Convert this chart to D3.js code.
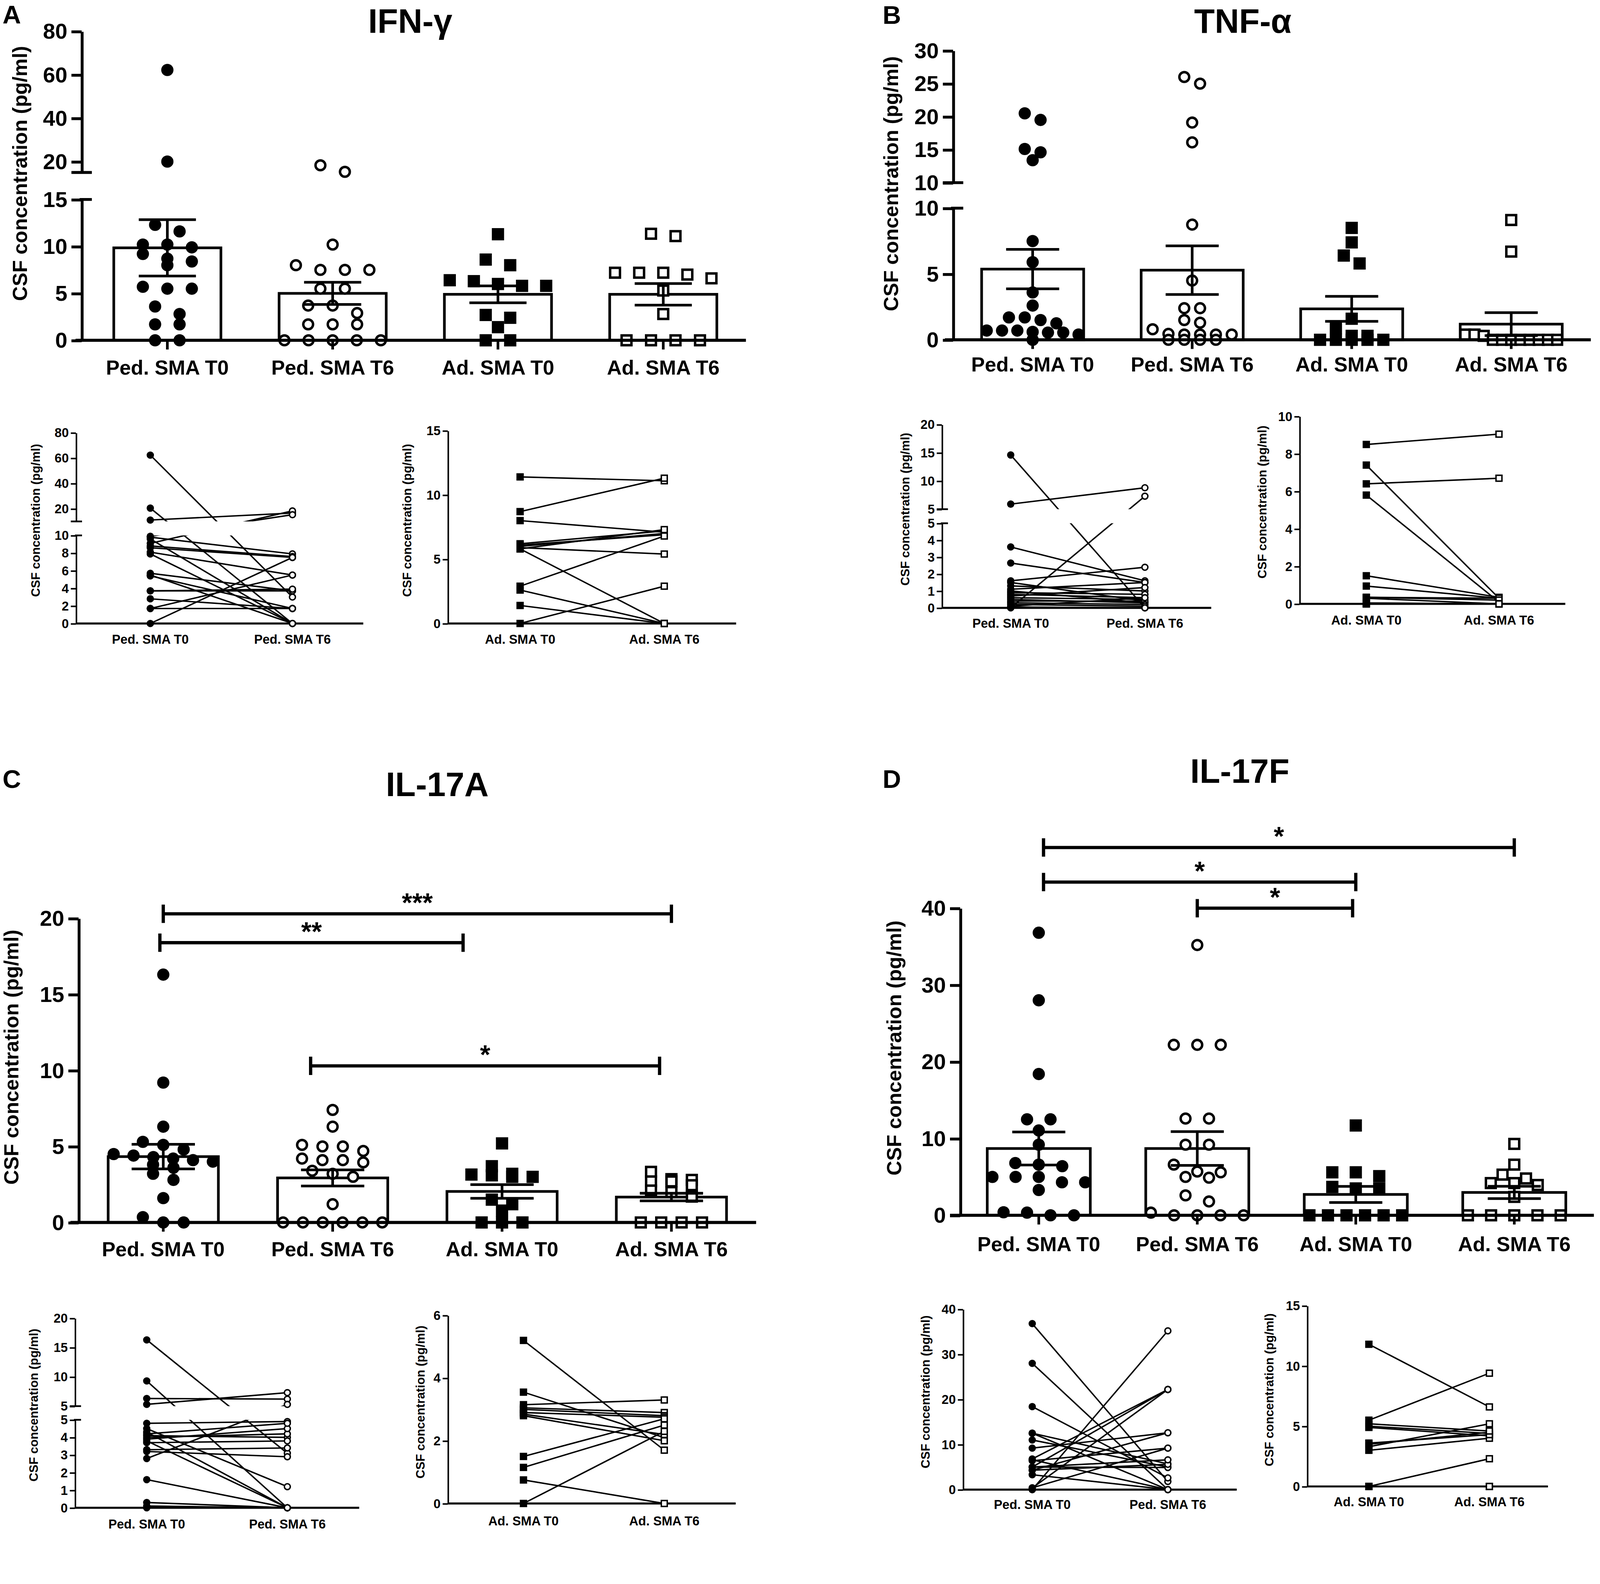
<!DOCTYPE html>
<html lang="en">
<head>
<meta charset="utf-8">
<title>CSF cytokines in SMA</title>
<script src="https://cdn.jsdelivr.net/npm/d3@7"></script>
<style>
  html, body { margin: 0; padding: 0; background: #fff; overflow: hidden; }
  svg { display: block; width: 100vw; height: auto; }
  svg text { font-family: "Liberation Sans", Arial, sans-serif; font-weight: bold; fill: #000; }
</style>
</head>
<body>
<script>

// groups and labels
var groups = ["Ped. SMA T0", "Ped. SMA T6", "Ad. SMA T0", "Ad. SMA T6"];
var pedGroups = ["Ped. SMA T0", "Ped. SMA T6"];
var adGroups = ["Ad. SMA T0", "Ad. SMA T6"];
var markerKinds = ["dot", "ring", "box", "frame"];
var yTitle = "CSF concentration (pg/ml)";

// A - IFN-gamma
var ifnPedT0 = [62.2, 20.0, 12.3, 11.6, 10.2, 10.2, 9.9, 9.2, 8.7, 8.4, 8.0, 5.7, 5.5, 5.5, 3.6, 2.8, 1.7, 1.7, 0, 0];
var ifnPedT6 = [18.3, 15.3, 10.2, 8.0, 7.5, 7.5, 7.5, 5.5, 5.5, 3.7, 3.7, 2.9, 1.7, 1.7, 1.7, 0, 0, 0, 0, 0];
var ifnAdT0 = [11.3, 8.6, 8.0, 6.4, 6.3, 6.0, 5.8, 5.8, 2.7, 2.4, 1.4, 0, 0];
var ifnAdT6 = [11.35, 11.1, 7.2, 7.2, 7.2, 7.0, 6.6, 5.3, 2.8, 0, 0, 0, 0];
var ifnMean = [9.85, 5.0, 4.9, 4.9];
var ifnSem = [3.0, 1.18, 0.9, 1.15];
var ifnTicksLow = [0, 5, 10, 15], ifnTicksUp = [20, 40, 60, 80];
var ifnPairPedT0 = [62.3, 20.5, 11.1, 9.1, 9.8, 9.6, 8.8, 8.6, 7.9, 5.7, 5.5, 5.4, 3.7, 3.7, 2.8, 1.7, 1.7, 9.9, 0, 8.1];
var ifnPairPedT6 = [3.0, 0, 16.6, 18.3, 7.9, 0, 7.6, 7.5, 0, 3.7, 0, 1.7, 3.7, 3.9, 1.7, 5.5, 1.7, 15.3, 7.5, 5.5];
var ifnPairAdT0 = [11.4, 8.7, 8.0, 6.2, 6.1, 6.0, 5.9, 5.8, 2.9, 2.6, 1.4, 0, 5.8];
var ifnPairAdT6 = [11.1, 11.3, 7.1, 7.2, 6.9, 7.0, 5.4, 0, 6.8, 0, 0, 2.9, 7.3];
var ifnPedTicksLow = [0, 2, 4, 6, 8, 10], ifnPedTicksUp = [20, 40, 60, 80];
var ifnAdTicks = [0, 5, 10, 15];

// B - TNF-alpha
var tnfPedT0 = [20.5, 19.5, 15.1, 14.6, 13.4, 7.5, 5.9, 3.6, 2.6, 1.7, 1.7, 1.5, 1.25, 0.7, 0.7, 0.7, 0.6, 0.55, 0.55, 0.4, 0];
var tnfPedT6 = [26.0, 25.0, 19.1, 16.1, 8.75, 4.5, 2.4, 2.4, 1.5, 1.3, 0.8, 0.45, 0.4, 0.4, 0.4, 0.4, 0, 0, 0, 0];
var tnfAdT0 = [8.5, 7.4, 6.4, 5.8, 1.6, 0.9, 0.3, 0.3, 0, 0, 0, 0, 0];
var tnfAdT6 = [9.1, 6.7, 0.4, 0.4, 0.3, 0, 0, 0, 0, 0, 0, 0, 0];
var tnfMean = [5.37, 5.29, 2.35, 1.19];
var tnfSem = [1.5, 1.85, 0.95, 0.87];
var tnfTicksLow = [0, 5, 10], tnfTicksUp = [10, 15, 20, 25, 30];
var tnfPairPedT0 = [14.6, 5.9, 3.6, 2.65, 1.6, 1.5, 1.3, 1.1, 1.0, 0.9, 0.8, 0.7, 0.6, 0.5, 0.4, 0.3, 0.2, 0.1, 0, 0.05];
var tnfPairPedT6 = [0, 8.8, 1.6, 1.5, 2.4, 0.4, 1.0, 1.5, 0.3, 0.8, 0.6, 1.2, 0.5, 0.3, 0.4, 0.2, 0.1, 0.6, 7.3, 0];
var tnfPairAdT0 = [8.5, 7.4, 6.4, 5.8, 1.5, 0.95, 0.35, 0.35, 0.3, 0.05, 0, 0, 0];
var tnfPairAdT6 = [9.05, 0.3, 6.7, 0.1, 0.35, 0.3, 0.3, 0.2, 0, 0, 0, 0, 0];
var tnfPedTicksLow = [0, 1, 2, 3, 4, 5], tnfPedTicksUp = [5, 10, 15, 20];
var tnfAdTicks = [0, 2, 4, 6, 8, 10];

// C - IL-17A
var il17aPedT0 = [16.3, 9.2, 6.3, 5.3, 5.1, 4.8, 4.5, 4.4, 4.3, 4.2, 4.1, 4.0, 3.8, 3.6, 3.2, 2.8, 1.6, 0.35, 0, 0];
var il17aPedT6 = [7.4, 6.3, 5.1, 5.0, 5.0, 4.7, 4.2, 4.1, 4.1, 3.95, 3.4, 3.2, 3.0, 1.2, 0, 0, 0, 0, 0, 0];
var il17aAdT0 = [5.2, 3.7, 3.2, 3.15, 3.1, 3.0, 3.0, 1.5, 1.2, 0.78, 0, 0, 0];
var il17aAdT6 = [3.33, 2.85, 2.8, 2.7, 2.7, 2.45, 2.1, 2.0, 1.7, 0, 0, 0, 0];
var il17aMean = [4.33, 2.93, 2.04, 1.67];
var il17aSem = [0.81, 0.53, 0.45, 0.25];
var il17aTicks = [0, 5, 10, 15, 20];
var il17aSigFrom = [0, -0.02, 0.87], il17aSigTo = [3, 1.77, 2.93];
var il17aSigLevel = [20.3, 18.4, 10.3], il17aSigText = ["***", "**", "*"];
var il17aPairPedT0 = [16.3, 9.3, 6.3, 5.3, 4.8, 4.5, 4.3, 4.1, 4.0, 3.9, 3.8, 3.7, 3.3, 2.8, 1.6, 0.3, 0.1, 0, 4.2, 3.2];
var il17aPairPedT6 = [3.1, 0, 6.2, 7.3, 4.9, 1.2, 0, 4.0, 4.2, 4.5, 0, 3.8, 3.4, 5.3, 0, 0, 0, 0, 4.8, 2.9];
var il17aPairAdT0 = [5.2, 3.55, 3.15, 3.05, 3.0, 2.9, 2.85, 2.8, 1.5, 1.15, 0.75, 0];
var il17aPairAdT6 = [1.7, 2.1, 3.3, 2.9, 2.8, 2.75, 2.2, 2.0, 2.7, 2.5, 0, 2.3];
var il17aPedTicksLow = [0, 1, 2, 3, 4, 5], il17aPedTicksUp = [5, 10, 15, 20];
var il17aAdTicks = [0, 2, 4, 6];

// D - IL-17F
var il17fPedT0 = [36.8, 28.0, 18.4, 12.5, 12.5, 11.05, 9.2, 6.8, 6.6, 6.4, 5.0, 5.0, 5.0, 4.3, 4.3, 3.3, 0.4, 0.35, 0, 0];
var il17fPedT6 = [35.2, 22.2, 22.2, 22.2, 12.6, 12.6, 9.2, 9.2, 6.6, 5.7, 5.6, 5.0, 4.9, 2.6, 1.8, 0.35, 0, 0, 0, 0];
var il17fAdT0 = [11.7, 5.6, 5.6, 5.1, 3.7, 3.5, 3.5, 0, 0, 0, 0, 0, 0];
var il17fAdT6 = [9.3, 6.6, 5.3, 4.8, 4.2, 4.2, 3.95, 2.4, 0, 0, 0, 0, 0];
var il17fMean = [8.7, 8.7, 2.72, 2.98];
var il17fSem = [2.15, 2.2, 1.05, 0.8];
var il17fTicks = [0, 10, 20, 30, 40];
var il17fSigFrom = [0.03, 0.03, 1.0], il17fSigTo = [3.0, 2.0, 1.98];
var il17fSigLevel = [47.9, 43.4, 40.0], il17fSigText = ["*", "*", "*"];
var il17fPairPedT0 = [36.8, 28.0, 18.4, 12.5, 12.5, 11.0, 9.2, 6.8, 6.6, 6.4, 5.0, 5.0, 4.3, 4.3, 5.0, 3.3, 0.4, 0.35, 0, 0];
var il17fPairPedT6 = [1.8, 0, 2.6, 5.7, 0, 5.0, 12.6, 22.2, 0, 9.2, 22.2, 4.9, 5.6, 12.6, 6.6, 0, 9.2, 22.2, 35.2, 0];
var il17fPairAdT0 = [11.8, 5.5, 5.0, 4.9, 3.5, 3.3, 3.0, 0, 0, 3.6, 5.2, 0];
var il17fPairAdT6 = [6.6, 9.4, 4.4, 4.2, 4.5, 5.2, 4.0, 2.3, 0, 4.3, 4.6, 0];
var il17fPedTicks = [0, 10, 20, 30, 40];
var il17fAdTicks = [0, 5, 10, 15];


// the drawing is laid out in a 1568 x 1501 box, scaled to the window width, top aligned
var svg = d3.select("body").append("svg")
  .attr("viewBox", "0 0 1568 1501")
  .attr("preserveAspectRatio", "xMidYMin meet");
svg.append("rect").attr("width", 1568).attr("height", 1501).attr("fill", "#fff");

var clipCount = 0;

// scale with an optional upper segment above a break
function yScale(lowDom, lowRange, upDom, upRange) {
  var lo = d3.scaleLinear().domain(lowDom).range(lowRange);
  var up = upDom ? d3.scaleLinear().domain(upDom).range(upRange) : null;
  var f = function (v) { return up && v > lowDom[1] ? up(v) : lo(v); };
  f.lo = lo;
  f.up = up;
  return f;
}

function putText(g, x, y, str, size, anchor, rot) {
  return g.append("text")
    .attr("transform", "translate(" + x + "," + y + ")" + (rot ? " rotate(-90)" : ""))
    .attr("text-anchor", anchor || "middle")
    .attr("font-size", size)
    .text(str);
}

function leftAxis(g, scale, ticks, x, len, sw, size) {
  var ax = g.append("g").attr("transform", "translate(" + x + ",0)")
    .call(d3.axisLeft(scale).tickValues(ticks).tickFormat(d3.format("d"))
      .tickSize(len).tickSizeOuter(0).tickPadding(len > 6 ? 4 : 2));
  ax.attr("font-size", size).attr("font-family", null);
  ax.selectAll("path, line").attr("stroke", "#000").attr("stroke-width", sw);
  return ax;
}

function hline(g, x1, x2, y, sw) {
  g.append("line").attr("x1", x1).attr("x2", x2).attr("y1", y).attr("y2", y)
    .attr("stroke", "#000").attr("stroke-width", sw);
}

function drawMarkers(g, pts, kind, r, sw) {
  var open = kind === "ring" || kind === "frame";
  var rr = open ? r - sw / 2 : r;
  var sel;
  if (kind === "dot" || kind === "ring") {
    sel = g.selectAll(null).data(pts).join("circle")
      .attr("cx", function (d) { return d.x; })
      .attr("cy", function (d) { return d.y; })
      .attr("r", rr);
  } else {
    sel = g.selectAll(null).data(pts).join("rect")
      .attr("x", function (d) { return d.x - rr; })
      .attr("y", function (d) { return d.y - rr; })
      .attr("width", 2 * rr).attr("height", 2 * rr);
  }
  sel.attr("fill", open ? "#fff" : "#000")
    .attr("stroke", open ? "#000" : "none")
    .attr("stroke-width", open ? sw : 0);
}

// prism-like scatter: points of similar height share a centred row,
// squeezed when the row would get wider than the bar
function swarm(vals, y, cx, gap, thr, maxW) {
  var pts = vals.map(function (v) { return { v: v, y: y(v) }; })
    .sort(function (a, b) { return a.y - b.y; });
  var rows = [], row = null;
  pts.forEach(function (p) {
    if (row && p.y - row[0].y < thr) row.push(p);
    else { row = [p]; rows.push(row); }
  });
  rows.forEach(function (r) {
    var step = r.length > 1 ? Math.min(gap, maxW / (r.length - 1)) : 0;
    r.forEach(function (p, i) { p.x = cx + (i - (r.length - 1) / 2) * step; });
  });
  return pts;
}

function drawMain(p) {
  var g = svg.append("g");
  var y = p.y;
  var x = d3.scalePoint().domain(groups).range(p.centers);
  var base = y.lo(0);

  // bars
  g.selectAll(null).data(p.mean).join("rect")
    .attr("x", function (d, i) { return x(groups[i]) - p.barW / 2; })
    .attr("width", p.barW)
    .attr("y", function (d) { return y(d); })
    .attr("height", function (d) { return base - y(d); })
    .attr("fill", "#fff").attr("stroke", "#000").attr("stroke-width", 2.6);

  // individual values
  p.vals.forEach(function (vals, i) {
    drawMarkers(g, swarm(vals, y, x(groups[i]), p.gap, 8, p.barW * 0.9), markerKinds[i], 6, 2.4);
  });

  // mean +/- SEM
  g.selectAll(null).data(p.mean).join("path")
    .attr("d", function (d, i) {
      var cx = x(groups[i]), hi = y(d + p.sem[i]), lo = y(d - p.sem[i]), c = p.capW / 2;
      return "M" + cx + "," + lo + "V" + hi +
        "M" + (cx - c) + "," + hi + "H" + (cx + c) +
        "M" + (cx - c) + "," + lo + "H" + (cx + c);
    })
    .attr("fill", "none").attr("stroke", "#000").attr("stroke-width", 2.6);

  // y axis (possibly broken)
  leftAxis(g, y.lo, p.lowTicks, p.axisX, 10, 2.8, 21.5);
  if (y.up) {
    leftAxis(g, y.up, p.upTicks, p.axisX, 10, 2.8, 21.5);
    hline(g, p.axisX - 10, p.axisX + 10, y.up.range()[0], 2.8);
    hline(g, p.axisX - 2, p.axisX + 10, y.lo.range()[1], 2.8);
  }

  // x axis
  hline(g, p.span[0], p.span[1], base, 3);
  g.selectAll(null).data(groups).join("line")
    .attr("x1", function (d) { return x(d); }).attr("x2", function (d) { return x(d); })
    .attr("y1", base).attr("y2", base + 9)
    .attr("stroke", "#000").attr("stroke-width", 2.6);
  groups.forEach(function (name) { putText(g, x(name), p.labelY, name, 20); });

  putText(g, p.titleX, p.titleY, p.title, 33);
  putText(g, p.letterX, p.letterY, p.letter, 25, "start");
  putText(g, p.ylabX, p.ylabY, yTitle, 20, "middle", true);

  // significance brackets
  if (p.sigFrom) {
    var xi = d3.scaleLinear().domain([0, 3]).range(p.centers);
    p.sigFrom.forEach(function (f, k) {
      var x1 = xi(f), x2 = xi(p.sigTo[k]), yy = y(p.sigLevel[k]);
      g.append("path")
        .attr("d", "M" + x1 + "," + (yy - 9) + "V" + (yy + 9) + "M" + x1 + "," + yy + "H" + x2 +
          "M" + x2 + "," + (yy - 9) + "V" + (yy + 9))
        .attr("fill", "none").attr("stroke", "#000").attr("stroke-width", 3.2);
      putText(g, (x1 + x2) / 2, yy - 2, p.sigText[k], 26);
    });
  }
}

function drawPaired(p) {
  var g = svg.append("g");
  var y = p.y;
  var x = d3.scalePoint().domain(p.names).range(p.centers);
  var base = y.lo(0);
  var c0 = x(p.names[0]), c1 = x(p.names[1]);

  leftAxis(g, y.lo, p.lowTicks, p.axisX, 5, 1.5, 12.5);
  var bands = [[0, 1501]];
  if (y.up) {
    leftAxis(g, y.up, p.upTicks, p.axisX, 5, 1.5, 12.5);
    hline(g, p.axisX - 5, p.axisX + 6, y.up.range()[0], 1.7);
    hline(g, p.axisX - 1, p.axisX + 6, y.lo.range()[1], 1.7);
    bands = [[0, y.up.range()[0]], [y.lo.range()[1], 1501]];
  }
  hline(g, p.span[0], p.span[1], base, 2);

  // before/after lines, cut at the axis break
  bands.forEach(function (b) {
    var id = "clip" + (clipCount++);
    svg.append("clipPath").attr("id", id).append("rect")
      .attr("x", p.axisX).attr("width", p.span[1] - p.axisX + 10)
      .attr("y", b[0]).attr("height", b[1] - b[0]);
    g.append("g").attr("clip-path", "url(#" + id + ")")
      .selectAll(null).data(p.t0).join("line")
      .attr("x1", c0).attr("y1", function (d) { return y(d); })
      .attr("x2", c1).attr("y2", function (d, i) { return y(p.t6[i]); })
      .attr("stroke", "#000").attr("stroke-width", 1.4);
  });

  drawMarkers(g, p.t0.map(function (v) { return { x: c0, y: y(v) }; }), p.kinds[0], 3.6, 1.4);
  drawMarkers(g, p.t6.map(function (v) { return { x: c1, y: y(v) }; }), p.kinds[1], 3.6, 1.4);

  p.names.forEach(function (name) { putText(g, x(name), p.labelY, name, 12.5); });
  putText(g, p.ylabX, p.ylabY, yTitle, 12, "middle", true);
}

// ---- panel A
drawMain({
  vals: [ifnPedT0, ifnPedT6, ifnAdT0, ifnAdT6], mean: ifnMean, sem: ifnSem,
  y: yScale([0, 15], [333.5, 195.5], [15, 80], [169, 30.7]),
  lowTicks: ifnTicksLow, upTicks: ifnTicksUp,
  axisX: 80, span: [74, 731], centers: [164, 650], barW: 105, capW: 56, gap: 24,
  labelY: 367, title: "IFN-γ", titleX: 402, titleY: 32, letter: "A", letterX: 2.5, letterY: 23,
  ylabX: 26.5, ylabY: 170
});
drawPaired({
  t0: ifnPairPedT0, t6: ifnPairPedT6, kinds: ["dot", "ring"], names: pedGroups,
  y: yScale([0, 10], [611, 524.7], [10, 80], [511, 424]),
  lowTicks: ifnPedTicksLow, upTicks: ifnPedTicksUp,
  axisX: 74.4, span: [74.4, 356], centers: [147.3, 286.6], labelY: 631, ylabX: 39, ylabY: 510
});
drawPaired({
  t0: ifnPairAdT0, t6: ifnPairAdT6, kinds: ["box", "frame"], names: adGroups,
  y: yScale([0, 15], [611, 422]),
  lowTicks: ifnAdTicks,
  axisX: 438.8, span: [438.8, 721.4], centers: [509.7, 651], labelY: 631, ylabX: 403, ylabY: 510
});

// ---- panel B
drawMain({
  vals: [tnfPedT0, tnfPedT6, tnfAdT0, tnfAdT6], mean: tnfMean, sem: tnfSem,
  y: yScale([0, 10], [333, 204], [10, 30], [179, 49.6]),
  lowTicks: tnfTicksLow, upTicks: tnfTicksUp,
  axisX: 934, span: [926, 1559], centers: [1012, 1481], barW: 100, capW: 52, gap: 15.5,
  labelY: 364, title: "TNF-α", titleX: 1218, titleY: 32, letter: "B", letterX: 865, letterY: 23.5,
  ylabX: 880, ylabY: 180
});
drawPaired({
  t0: tnfPairPedT0, t6: tnfPairPedT6, kinds: ["dot", "ring"], names: pedGroups,
  y: yScale([0, 5], [595.7, 512.8], [5, 20], [499, 416]),
  lowTicks: tnfPedTicksLow, upTicks: tnfPedTicksUp,
  axisX: 923, span: [923, 1187], centers: [990.5, 1122], labelY: 615, ylabX: 891, ylabY: 499
});
drawPaired({
  t0: tnfPairAdT0, t6: tnfPairAdT6, kinds: ["box", "frame"], names: adGroups,
  y: yScale([0, 10], [591.8, 408]),
  lowTicks: tnfAdTicks,
  axisX: 1273.5, span: [1273.5, 1534], centers: [1339, 1469], labelY: 612, ylabX: 1241, ylabY: 492
});

// ---- panel C
drawMain({
  vals: [il17aPedT0, il17aPedT6, il17aAdT0, il17aAdT6], mean: il17aMean, sem: il17aSem,
  y: yScale([0, 20], [1198, 900]),
  lowTicks: il17aTicks,
  axisX: 77, span: [69, 741], centers: [160, 658], barW: 108, capW: 62, gap: 20,
  labelY: 1231, title: "IL-17A", titleX: 428.5, titleY: 780, letter: "C", letterX: 2.5, letterY: 772,
  ylabX: 18, ylabY: 1036,
  sigFrom: il17aSigFrom, sigTo: il17aSigTo, sigLevel: il17aSigLevel, sigText: il17aSigText
});
drawPaired({
  t0: il17aPairPedT0, t6: il17aPairPedT6, kinds: ["dot", "ring"], names: pedGroups,
  y: yScale([0, 5], [1477.6, 1391.4], [5, 20], [1378, 1291.8]),
  lowTicks: il17aPedTicksLow, upTicks: il17aPedTicksUp,
  axisX: 73.4, span: [73.4, 352], centers: [143.8, 281.6], labelY: 1498, ylabX: 37, ylabY: 1377
});
drawPaired({
  t0: il17aPairAdT0, t6: il17aPairAdT6, kinds: ["box", "frame"], names: adGroups,
  y: yScale([0, 6], [1473.4, 1289]),
  lowTicks: il17aAdTicks,
  axisX: 438.8, span: [438.8, 721], centers: [513, 651], labelY: 1495, ylabX: 416, ylabY: 1374
});

// ---- panel D
drawMain({
  vals: [il17fPedT0, il17fPedT6, il17fAdT0, il17fAdT6], mean: il17fMean, sem: il17fSem,
  y: yScale([0, 40], [1191, 890]),
  lowTicks: il17fTicks,
  axisX: 941, span: [931, 1562], centers: [1018, 1484], barW: 101, capW: 52, gap: 23,
  labelY: 1226, title: "IL-17F", titleX: 1215, titleY: 767, letter: "D", letterX: 865, letterY: 772,
  ylabX: 883, ylabY: 1027,
  sigFrom: il17fSigFrom, sigTo: il17fSigTo, sigLevel: il17fSigLevel, sigText: il17fSigText
});
drawPaired({
  t0: il17fPairPedT0, t6: il17fPairPedT6, kinds: ["dot", "ring"], names: pedGroups,
  y: yScale([0, 40], [1459.8, 1283]),
  lowTicks: il17fPedTicks,
  axisX: 943.7, span: [943.7, 1212], centers: [1011.6, 1144.5], labelY: 1479, ylabX: 911, ylabY: 1364
});
drawPaired({
  t0: il17fPairAdT0, t6: il17fPairAdT6, kinds: ["box", "frame"], names: adGroups,
  y: yScale([0, 15], [1456.7, 1279.6]),
  lowTicks: il17fAdTicks,
  axisX: 1281, span: [1281, 1517], centers: [1341.5, 1459.6], labelY: 1476, ylabX: 1248, ylabY: 1362
});

</script>
</body>
</html>
